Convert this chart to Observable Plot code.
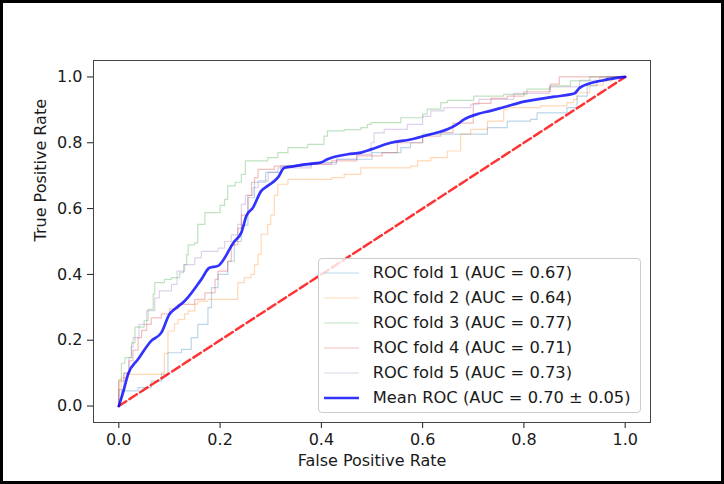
<!DOCTYPE html>
<html>
<head>
<meta charset="utf-8">
<script src="https://cdn.jsdelivr.net/npm/d3@7"></script>
<script src="https://cdn.jsdelivr.net/npm/@observablehq/plot@0.6"></script>
<style>
  html, body { margin: 0; padding: 0; background: #fff; }
  #wrap { position: relative; width: 724px; height: 484px; overflow: hidden; font-family: "DejaVu Sans", sans-serif; }
  #wrap svg { display: block; }
  #border { position: absolute; left: 0; top: 0; width: 724px; height: 484px; box-sizing: border-box; border: 3px solid #000; pointer-events: none; }
  #legend { position: absolute; left: 318px; top: 258px; width: 323px; height: 155px; box-sizing: border-box;
            border: 1px solid #cccccc; border-radius: 4px; background: rgba(255,255,255,0.8);
            padding: 1px 0 0 5px; display: flex; flex-direction: column; }
  .row { height: 25px; display: flex; align-items: center; font-size: 16.3px; color: #1a1a1a; white-space: nowrap; }
  .row svg { margin-right: 13.7px; flex: none; }
</style>
</head>
<body>
<div id="wrap"></div>
<script>
// ---- data ----
const foldLabels = ["ROC fold 1 (AUC = 0.67)", "ROC fold 2 (AUC = 0.64)", "ROC fold 3 (AUC = 0.77)", "ROC fold 4 (AUC = 0.71)", "ROC fold 5 (AUC = 0.73)"];
const meanLabel = "Mean ROC (AUC = 0.70 \u00b1 0.05)";
const xLabel = "False Positive Rate";
const yLabel = "True Positive Rate";
const tickValues = [0, 0.2, 0.4, 0.6, 0.8, 1.0];

// each fold: fpr at which the tpr rises to the paired value (staircase corners)
const fold1Fpr = [0, 0, 0.005, 0.038, 0.064, 0.084, 0.097, 0.124, 0.143, 0.156, 0.176, 0.183, 0.196, 0.215, 0.228, 0.242, 0.255, 0.268, 0.29, 0.32, 0.38, 0.43, 0.50, 0.557, 0.576, 0.60, 0.728, 0.767, 0.813, 0.826, 0.885, 0.905, 0.925, 0.944, 0.964, 1];
const fold1Tpr = [0, 0.02, 0.046, 0.056, 0.076, 0.096, 0.162, 0.172, 0.208, 0.248, 0.299, 0.36, 0.40, 0.44, 0.50, 0.55, 0.633, 0.68, 0.71, 0.73, 0.74, 0.75, 0.77, 0.785, 0.80, 0.826, 0.846, 0.866, 0.871, 0.891, 0.907, 0.942, 0.973, 0.988, 1, 1];

const fold2Fpr = [0, 0, 0.005, 0.018, 0.084, 0.09, 0.097, 0.11, 0.117, 0.13, 0.137, 0.15, 0.156, 0.176, 0.235, 0.248, 0.261, 0.268, 0.275, 0.281, 0.294, 0.30, 0.307, 0.314, 0.334, 0.42, 0.445, 0.478, 0.576, 0.59, 0.616, 0.649, 0.675, 0.695, 0.728, 0.76, 0.767, 0.833, 0.885, 0.898, 0.905, 0.93, 0.957, 0.975, 1];
const fold2Tpr = [0, 0.05, 0.086, 0.096, 0.101, 0.16, 0.228, 0.25, 0.263, 0.28, 0.289, 0.31, 0.319, 0.324, 0.375, 0.39, 0.40, 0.43, 0.461, 0.522, 0.552, 0.58, 0.64, 0.674, 0.689, 0.694, 0.704, 0.724, 0.729, 0.745, 0.755, 0.775, 0.826, 0.841, 0.866, 0.9, 0.907, 0.912, 0.922, 0.932, 0.952, 0.975, 0.988, 1, 1];

const fold3Fpr = [0, 0, 0.005, 0.012, 0.025, 0.032, 0.05, 0.058, 0.068, 0.071, 0.09, 0.104, 0.12, 0.128, 0.134, 0.137, 0.15, 0.156, 0.17, 0.2, 0.209, 0.215, 0.23, 0.242, 0.25, 0.294, 0.314, 0.334, 0.373, 0.405, 0.412, 0.445, 0.478, 0.491, 0.498, 0.557, 0.60, 0.609, 0.636, 0.649, 0.701, 0.76, 0.806, 0.852, 0.892, 0.93, 1];
const fold3Tpr = [0, 0.08, 0.13, 0.147, 0.192, 0.24, 0.26, 0.294, 0.34, 0.375, 0.385, 0.39, 0.405, 0.43, 0.46, 0.49, 0.496, 0.552, 0.588, 0.61, 0.628, 0.669, 0.68, 0.704, 0.745, 0.755, 0.77, 0.785, 0.795, 0.82, 0.836, 0.84, 0.846, 0.856, 0.861, 0.876, 0.887, 0.902, 0.922, 0.929, 0.942, 0.947, 0.963, 0.973, 0.988, 1, 1];

const fold4Fpr = [0, 0, 0.01, 0.02, 0.028, 0.038, 0.045, 0.055, 0.064, 0.084, 0.1, 0.117, 0.15, 0.17, 0.19, 0.196, 0.215, 0.222, 0.235, 0.242, 0.255, 0.262, 0.268, 0.275, 0.307, 0.36, 0.42, 0.47, 0.52, 0.55, 0.60, 0.636, 0.66, 0.70, 0.735, 0.767, 0.80, 0.852, 0.87, 1];
const fold4Tpr = [0, 0.076, 0.10, 0.137, 0.17, 0.208, 0.23, 0.248, 0.268, 0.28, 0.295, 0.309, 0.324, 0.344, 0.385, 0.41, 0.44, 0.49, 0.54, 0.58, 0.64, 0.68, 0.694, 0.719, 0.729, 0.735, 0.745, 0.76, 0.77, 0.80, 0.82, 0.831, 0.86, 0.92, 0.935, 0.942, 0.955, 0.978, 1, 1];

const fold5Fpr = [0, 0, 0.01, 0.02, 0.025, 0.028, 0.04, 0.055, 0.071, 0.08, 0.104, 0.115, 0.13, 0.15, 0.163, 0.196, 0.209, 0.222, 0.235, 0.242, 0.25, 0.265, 0.275, 0.295, 0.314, 0.38, 0.43, 0.47, 0.498, 0.504, 0.524, 0.57, 0.60, 0.616, 0.642, 0.695, 0.711, 0.78, 0.85, 0.91, 0.95, 1];
const fold5Tpr = [0, 0.05, 0.10, 0.147, 0.18, 0.208, 0.248, 0.29, 0.329, 0.35, 0.37, 0.41, 0.43, 0.45, 0.47, 0.48, 0.50, 0.52, 0.552, 0.613, 0.64, 0.664, 0.684, 0.71, 0.724, 0.735, 0.75, 0.765, 0.80, 0.83, 0.841, 0.856, 0.88, 0.897, 0.907, 0.917, 0.932, 0.95, 0.97, 0.99, 1, 1];

const meanFpr = [0, 0.01, 0.018, 0.038, 0.064, 0.084, 0.10, 0.11, 0.13, 0.163, 0.179, 0.196, 0.228, 0.242, 0.252, 0.265, 0.281, 0.294, 0.314, 0.327, 0.347, 0.373, 0.399, 0.412, 0.452, 0.478, 0.498, 0.537, 0.576, 0.616, 0.649, 0.668, 0.682, 0.708, 0.734, 0.76, 0.80, 0.826, 0.86, 0.892, 0.90, 0.911, 0.957, 1];
const meanTpr = [0, 0.05, 0.096, 0.142, 0.198, 0.223, 0.279, 0.294, 0.319, 0.385, 0.42, 0.426, 0.50, 0.527, 0.578, 0.603, 0.653, 0.669, 0.694, 0.724, 0.729, 0.735, 0.74, 0.75, 0.765, 0.77, 0.78, 0.80, 0.81, 0.826, 0.841, 0.856, 0.871, 0.887, 0.897, 0.908, 0.925, 0.932, 0.94, 0.947, 0.95, 0.968, 0.99, 1];

const chanceFpr = [0, 1];
const chanceTpr = [0, 1];

// ---- styles ----
const foldColors = ["#1f77b4", "#ff7f0e", "#2ca02c", "#d62728", "#9467bd"];
const meanColor = "#0000ff";
const chanceColor = "#ff0000";

// ---- build tables ----
const foldFpr = [fold1Fpr, fold2Fpr, fold3Fpr, fold4Fpr, fold5Fpr];
const foldTpr = [fold1Tpr, fold2Tpr, fold3Tpr, fold4Tpr, fold5Tpr];
const foldRows = foldLabels.flatMap((label, i) => foldFpr[i].map((f, j) => ({fold: label, fpr: f, tpr: foldTpr[i][j]})));
const meanRows = meanFpr.map((f, j) => ({fpr: f, tpr: meanTpr[j]}));
const chanceRows = chanceFpr.map((f, j) => ({fpr: f, tpr: chanceTpr[j]}));

const chart = Plot.plot({
  width: 724,
  height: 484,
  marginLeft: 93,
  marginRight: 74,
  marginTop: 60,
  marginBottom: 62,
  style: {fontFamily: "DejaVu Sans, sans-serif", fontSize: "16px", color: "#1a1a1a", background: "#fff"},
  x: {domain: [-0.05, 1.05], ticks: tickValues, tickFormat: d => d.toFixed(1), tickSize: 6, tickPadding: 5, label: null},
  y: {domain: [-0.05, 1.05], ticks: tickValues, tickFormat: d => d.toFixed(1), tickSize: 6, tickPadding: 5, label: null},
  color: {domain: foldLabels, range: foldColors},
  marks: [
    Plot.line(foldRows, {x: "fpr", y: "tpr", z: "fold", stroke: "fold", strokeOpacity: 0.3, strokeWidth: 1.2, curve: "step-after"}),
    Plot.line(chanceRows, {x: "fpr", y: "tpr", stroke: chanceColor, strokeOpacity: 0.8, strokeWidth: 2.5, strokeDasharray: "8.9,3.8"}),
    Plot.line(meanRows, {x: "fpr", y: "tpr", stroke: meanColor, strokeOpacity: 0.8, strokeWidth: 2.7, strokeLinejoin: "round", curve: "monotone-x"}),
    Plot.frame({stroke: "#444", strokeWidth: 1}),
    Plot.text([xLabel], {text: d => d, frameAnchor: "bottom", dy: 43, fontSize: 16, fill: "#1a1a1a"}),
    Plot.text([yLabel], {text: d => d, frameAnchor: "left", dx: -53, rotate: -90, fontSize: 16, fill: "#1a1a1a"})
  ]
});

const wrap = document.getElementById("wrap");
wrap.appendChild(chart);

// legend (HTML overlay)
const legend = document.createElement("div");
legend.id = "legend";
const items = foldLabels.map((l, i) => ({label: l, color: foldColors[i], opacity: 0.3, width: 1.2}))
  .concat([{label: meanLabel, color: meanColor, opacity: 0.8, width: 2.7}]);
for (const it of items) {
  const row = document.createElement("div");
  row.className = "row";
  row.innerHTML = `<svg width="35" height="6"><line x1="0" x2="35" y1="3" y2="3" stroke="${it.color}" stroke-opacity="${it.opacity}" stroke-width="${it.width}"/></svg><span>${it.label}</span>`;
  legend.appendChild(row);
}
wrap.appendChild(legend);

const border = document.createElement("div");
border.id = "border";
wrap.appendChild(border);
</script>
</body>
</html>
